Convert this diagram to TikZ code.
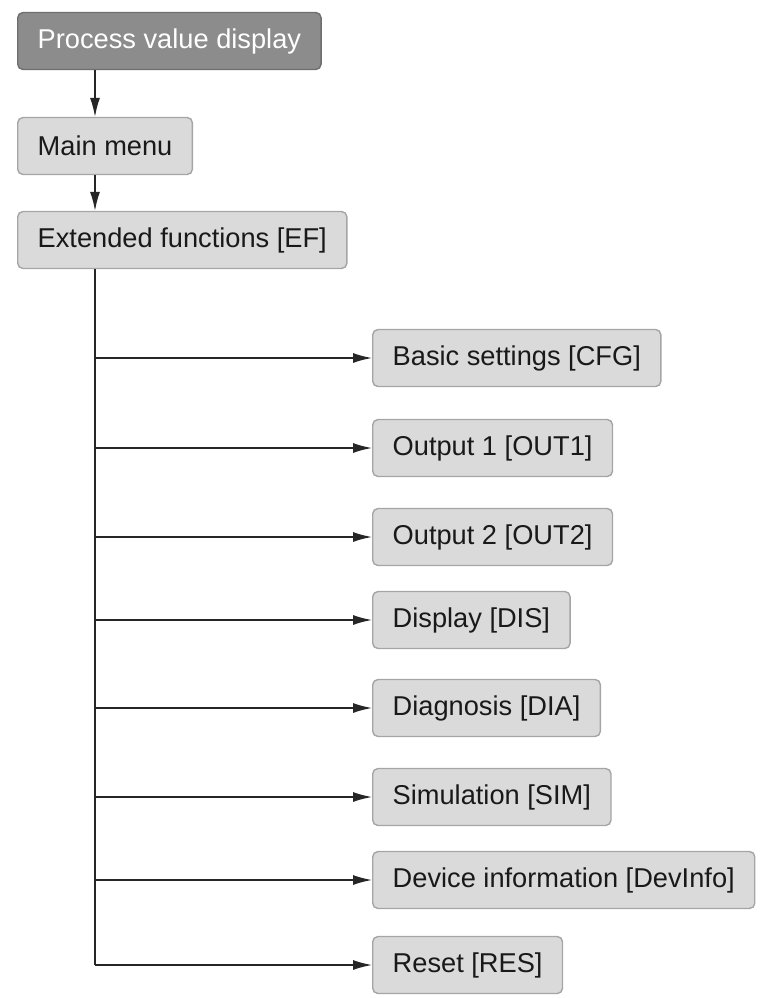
\documentclass[tikz,border=0pt]{standalone}
\usepackage{fontspec}
\setmainfont{Liberation Sans}
\usetikzlibrary{positioning,arrows.meta}
\definecolor{boxfill}{HTML}{DADADA}
\definecolor{boxline}{HTML}{A5A5A5}
\definecolor{darkfill}{HTML}{8C8C8C}
\definecolor{darkline}{HTML}{6E6E6E}
\begin{document}
\begin{tikzpicture}[x=0.02cm,y=-0.02cm,
    menu/.style={draw=boxline,fill=boxfill,line width=0.8pt,rounded corners=3pt,
        minimum height=1.14cm,inner xsep=0.4cm,anchor=west,
        font=\fontsize{15.5}{18}\selectfont,text=black!90},
    top/.style={menu,fill=darkfill,draw=darkline,text=white},
    link/.style={-{Latex[length=0.38cm,width=0.2cm]},thick,black!85}]
    \useasboundingbox (0,0) rectangle (773,998);

    % Upper chain
    \node[top]  (pvd) at (17,41)  {Process value display};
    \node[menu] (main) at (17,146) {Main menu};
    \node[menu] (ef) at (17,240)  {Extended functions [EF]};
    \draw[link] (pvd.south -| 95,0) -- (main.north -| 95,0);
    \draw[link] (main.south -| 95,0) -- (ef.north -| 95,0);

    % Submenus
    \node[menu] (cfg) at (372,358) {Basic settings [CFG]};
    \node[menu] (out1) at (372,448) {Output 1 [OUT1]};
    \node[menu] (out2) at (372,537) {Output 2 [OUT2]};
    \node[menu] (dis) at (372,620) {Display [DIS]};
    \node[menu] (dia) at (372,708) {Diagnosis [DIA]};
    \node[menu] (sim) at (372,797) {Simulation [SIM]};
    \node[menu] (dev) at (372,880) {Device information [DevInfo]};
    \node[menu] (res) at (372,965) {Reset [RES]};

    % Branches
    \coordinate (trunk) at (95,0);
    \draw[thick,black!85] (ef.south -| trunk) -- (res.west -| trunk);
    \foreach \n in {cfg,out1,out2,dis,dia,sim,dev,res}
        \draw[link] (\n.west -| trunk) -- (\n.west);
\end{tikzpicture}
\end{document}
